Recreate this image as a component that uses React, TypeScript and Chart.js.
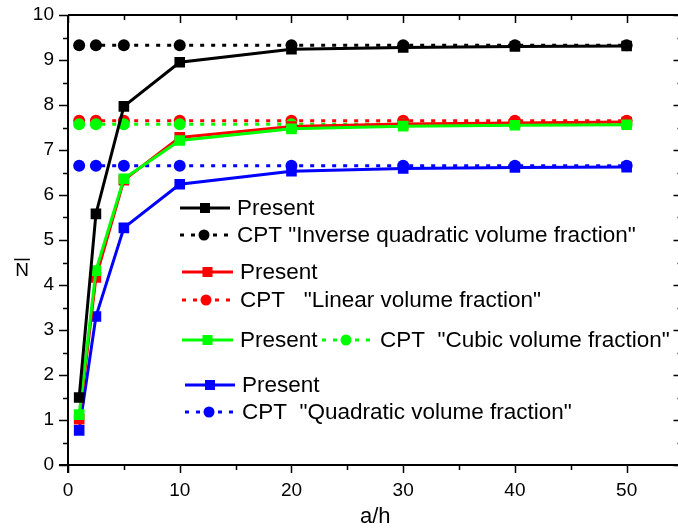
import React, { useEffect, useRef } from 'react';
import { Chart, registerables } from 'chart.js';

Chart.register(...registerables);

// a/h values
const aOverH = [1, 2.5, 5, 10, 20, 30, 40, 50];

// Present (solid, square markers)
const presentInverseQuadratic = [1.5, 5.58, 7.97, 8.95, 9.24, 9.28, 9.3, 9.31];
const presentLinear = [1.02, 4.17, 6.33, 7.28, 7.52, 7.58, 7.6, 7.62];
const presentCubic = [1.12, 4.32, 6.36, 7.21, 7.47, 7.53, 7.55, 7.56];
const presentQuadratic = [0.77, 3.3, 5.27, 6.24, 6.53, 6.59, 6.61, 6.62];

// CPT (dotted, circle markers)
const cptInverseQuadratic = [9.33, 9.33, 9.33, 9.33, 9.33, 9.33, 9.33, 9.33];
const cptLinear = [7.65, 7.65, 7.65, 7.65, 7.65, 7.65, 7.65, 7.65];
const cptCubic = [7.57, 7.57, 7.57, 7.57, 7.57, 7.57, 7.57, 7.57];
const cptQuadratic = [6.65, 6.65, 6.65, 6.65, 6.65, 6.65, 6.65, 6.65];

// axis ticks
const xTickValues = [0, 10, 20, 30, 40, 50];
const yTickValues = [0, 1, 2, 3, 4, 5, 6, 7, 8, 9, 10];

const xTitle = 'a/h';
const yTitle = 'N';

const BLACK = '#000000';
const RED = '#ff0000';
const GREEN = '#00ff00';
const BLUE = '#0000ff';
const FONT = '"Liberation Sans", Arial, Helvetica, sans-serif';

const pts = (ys: number[]) => aOverH.map((x, i) => ({ x, y: ys[i] }));

const presentDs = (label: string, ys: number[], color: string, order: number) => ({
  label,
  data: pts(ys),
  borderColor: color,
  backgroundColor: color,
  borderWidth: 3,
  pointStyle: 'rect',
  pointRadius: 7.5,
  pointBorderWidth: 0,
  pointHoverRadius: 7.5,
  order,
});

const cptDs = (label: string, ys: number[], color: string, order: number) => ({
  label,
  data: pts(ys),
  borderColor: color,
  backgroundColor: color,
  borderWidth: 3,
  borderDash: [4, 7],
  pointStyle: 'circle',
  pointRadius: 6,
  pointBorderWidth: 0,
  pointHoverRadius: 6,
  order,
});

const legendRows = [
  { x1: 180, x2: 230, y: 208, color: BLACK, dashed: false, tx: 237, text: 'Present' },
  { x1: 180, x2: 228, y: 235, color: BLACK, dashed: true, tx: 237, text: 'CPT "Inverse quadratic volume fraction"' },
  { x1: 182, x2: 233, y: 272, color: RED, dashed: false, tx: 240, text: 'Present' },
  { x1: 182, x2: 230, y: 300, color: RED, dashed: true, tx: 240, text: 'CPT   "Linear volume fraction"' },
  { x1: 182, x2: 233, y: 340, color: GREEN, dashed: false, tx: 240, text: 'Present' },
  { x1: 322, x2: 370, y: 340, color: GREEN, dashed: true, tx: 380, text: 'CPT  "Cubic volume fraction"' },
  { x1: 185, x2: 235, y: 385, color: BLUE, dashed: false, tx: 242, text: 'Present' },
  { x1: 185, x2: 233, y: 412, color: BLUE, dashed: true, tx: 242, text: 'CPT  "Quadratic volume fraction"' },
];

const framePlugin = {
  id: 'frame',
  afterDatasetsDraw(chart: any) {
    const { ctx, chartArea } = chart;
    const xs = chart.scales.x;
    const ys = chart.scales.y;
    const { left, right, top, bottom } = chartArea;
    ctx.save();
    ctx.strokeStyle = BLACK;
    ctx.lineWidth = 2;
    ctx.beginPath();
    ctx.moveTo(left, top);
    ctx.lineTo(right, top);
    ctx.moveTo(right, top);
    ctx.lineTo(right, bottom);
    ctx.moveTo(left - 9, bottom);
    ctx.lineTo(right, bottom);
    ctx.moveTo(left, top);
    ctx.lineTo(left, bottom + 8);
    ctx.stroke();

    ctx.lineWidth = 1.5;
    ctx.beginPath();
    // x ticks, majors and minors
    for (let v = 0; v <= 50; v += 5) {
      const px = Math.round(xs.getPixelForValue(v)) + 0.5;
      const major = v % 10 === 0;
      const len = major ? 8 : 5;
      ctx.moveTo(px, bottom);
      ctx.lineTo(px, bottom + len);
      ctx.moveTo(px, top);
      ctx.lineTo(px, top + len);
    }
    // y ticks
    for (let k = 0; k <= 20; k++) {
      const v = k / 2;
      const py = Math.round(ys.getPixelForValue(v)) + 0.5;
      const major = k % 2 === 0;
      const len = major ? 9 : 5;
      ctx.moveTo(left, py);
      ctx.lineTo(left - len, py);
      ctx.moveTo(right, py);
      ctx.lineTo(right - len, py);
    }
    ctx.stroke();

    // y title: N with overline
    ctx.fillStyle = BLACK;
    ctx.font = `19px ${FONT}`;
    ctx.textAlign = 'center';
    ctx.textBaseline = 'middle';
    const cx = 22;
    const cy = 271;
    ctx.fillText(yTitle, cx, cy);
    const w = ctx.measureText(yTitle).width;
    ctx.lineWidth = 1.5;
    ctx.beginPath();
    ctx.moveTo(cx - w / 2 - 1, 259.5);
    ctx.lineTo(cx + w / 2 + 1, 259.5);
    ctx.stroke();
    ctx.restore();
  },
};

const legendPlugin = {
  id: 'customLegend',
  afterDraw(chart: any) {
    const { ctx } = chart;
    ctx.save();
    for (const r of legendRows) {
      ctx.strokeStyle = r.color;
      ctx.fillStyle = r.color;
      ctx.lineWidth = 3;
      ctx.setLineDash(r.dashed ? [4, 7] : []);
      ctx.beginPath();
      ctx.moveTo(r.x1, r.y);
      ctx.lineTo(r.x2, r.y);
      ctx.stroke();
      ctx.setLineDash([]);
      const mx = (r.x1 + r.x2) / 2;
      ctx.beginPath();
      if (r.dashed) {
        ctx.arc(mx, r.y, 5.5, 0, Math.PI * 2);
        ctx.fill();
      } else {
        ctx.fillRect(mx - 5, r.y - 5, 10, 10);
      }
      ctx.fillStyle = BLACK;
      ctx.font = `22.5px ${FONT}`;
      ctx.textAlign = 'left';
      ctx.textBaseline = 'middle';
      ctx.fillText(r.text, r.tx, r.y + 1);
    }
    ctx.restore();
  },
};

export default function App() {
  const canvasRef = useRef<HTMLCanvasElement | null>(null);

  useEffect(() => {
    const canvas = canvasRef.current;
    if (!canvas) return;
    const chart = new Chart(canvas, {
      type: 'line',
      data: {
        datasets: [
          presentDs('Present (inverse quadratic)', presentInverseQuadratic, BLACK, 1),
          presentDs('Present (cubic)', presentCubic, GREEN, 2),
          presentDs('Present (linear)', presentLinear, RED, 3),
          presentDs('Present (quadratic)', presentQuadratic, BLUE, 4),
          cptDs('CPT "Cubic volume fraction"', cptCubic, GREEN, 5),
          cptDs('CPT "Linear volume fraction"', cptLinear, RED, 6),
          cptDs('CPT "Quadratic volume fraction"', cptQuadratic, BLUE, 7),
          cptDs('CPT "Inverse quadratic volume fraction"', cptInverseQuadratic, BLACK, 8),
        ] as any,
      },
      options: {
        animation: false,
        responsive: false,
        devicePixelRatio: 1,
        layout: { padding: { top: 15, right: 4, left: 0, bottom: 0 } },
        plugins: {
          legend: { display: false },
          tooltip: { enabled: false },
        },
        scales: {
          x: {
            type: 'linear',
            min: 0,
            max: 55,
            afterBuildTicks: (scale: any) => {
              scale.ticks = xTickValues.map((v) => ({ value: v }));
            },
            afterFit: (scale: any) => {
              scale.height = 63;
              scale.paddingLeft = 0;
              scale.paddingRight = 0;
            },
            grid: { display: false, drawTicks: false, tickLength: 0 },
            border: { display: false },
            ticks: {
              color: BLACK,
              font: { family: FONT, size: 19 },
              padding: 14,
              maxRotation: 0,
            },
            title: {
              display: true,
              text: xTitle,
              color: BLACK,
              font: { family: FONT, size: 22, lineHeight: 1 },
              padding: { top: 0, bottom: 0 },
            },
          },
          y: {
            type: 'linear',
            min: 0,
            max: 10,
            afterBuildTicks: (scale: any) => {
              scale.ticks = yTickValues.map((v) => ({ value: v }));
            },
            afterFit: (scale: any) => {
              scale.width = 68;
              scale.paddingTop = 0;
              scale.paddingBottom = 0;
            },
            grid: { display: false, drawTicks: false, tickLength: 0 },
            border: { display: false },
            ticks: {
              color: BLACK,
              font: { family: FONT, size: 19 },
              padding: 14,
            },
          },
        },
      } as any,
      plugins: [framePlugin, legendPlugin],
    });
    return () => chart.destroy();
  }, []);

  return (
    <div
      style={{
        position: 'absolute',
        left: 0,
        top: 0,
        width: 678,
        height: 528,
        overflow: 'hidden',
        background: '#ffffff',
      }}
    >
      <canvas ref={canvasRef} width={690} height={528} style={{ display: 'block' }} />
    </div>
  );
}
